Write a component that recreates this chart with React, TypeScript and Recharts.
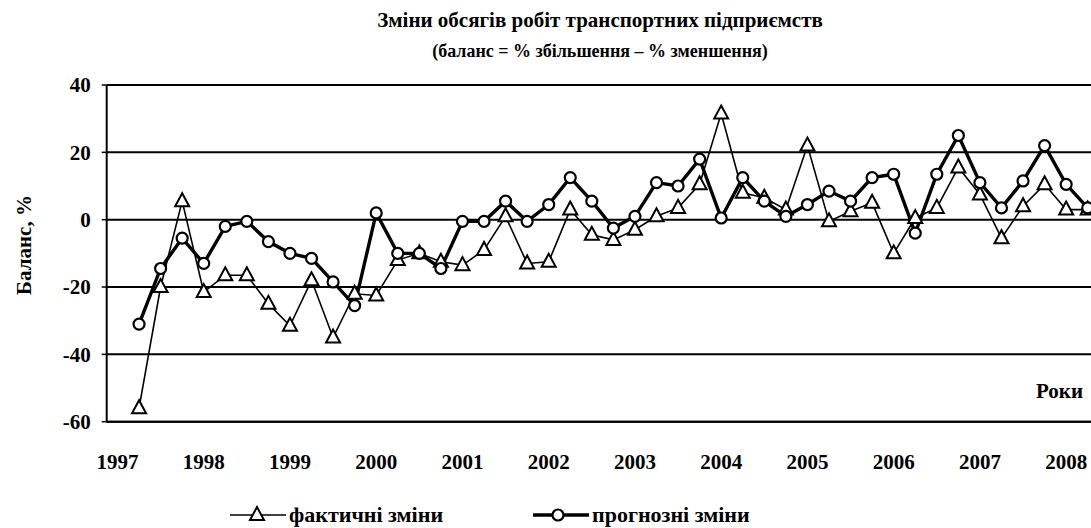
import { LineChart, Line, XAxis, YAxis, CartesianGrid } from "recharts"

// quarters from 1997 Q1 to 2008 Q2 (first quarter has no survey data)
const quarters = [
    "1997 Q1", "1997 Q2", "1997 Q3", "1997 Q4",
    "1998 Q1", "1998 Q2", "1998 Q3", "1998 Q4",
    "1999 Q1", "1999 Q2", "1999 Q3", "1999 Q4",
    "2000 Q1", "2000 Q2", "2000 Q3", "2000 Q4",
    "2001 Q1", "2001 Q2", "2001 Q3", "2001 Q4",
    "2002 Q1", "2002 Q2", "2002 Q3", "2002 Q4",
    "2003 Q1", "2003 Q2", "2003 Q3", "2003 Q4",
    "2004 Q1", "2004 Q2", "2004 Q3", "2004 Q4",
    "2005 Q1", "2005 Q2", "2005 Q3", "2005 Q4",
    "2006 Q1", "2006 Q2", "2006 Q3", "2006 Q4",
    "2007 Q1", "2007 Q2", "2007 Q3", "2007 Q4",
    "2008 Q1", "2008 Q2",
]

// фактичні зміни
const actual = [
    null, -56, -20, 5.5, -21.5, -16.5, -16.5, -25, -31.5, -18, -35, -22, -22.5,
    -12, -10, -12.5, -13.5, -9, 1, -13, -12.5, 3, -4.5, -6, -3,
    1, 3.5, 10.5, 31.5, 8, 6.5, 3, 22, -0.5, 2.5, 5, -10,
    0.5, 3.5, 15.5, 7.5, -5.5, 4, 10.5, 3, 3,
]

// прогнозні зміни
const forecast = [
    null, -31, -14.5, -5.5, -13, -2, -0.5, -6.5, -10, -11.5, -18.5, -25.5, 2,
    -10, -10, -14.5, -0.5, -0.5, 5.5, -0.5, 4.5, 12.5, 5.5, -2.5, 1,
    11, 10, 18, 0.5, 12.5, 5.5, 1, 4.5, 8.5, 5.5, 12.5, 13.5,
    -4, 13.5, 25, 11, 3.5, 11.5, 22, 10.5, 3.5,
]

const years = ["1997", "1998", "1999", "2000", "2001", "2002", "2003", "2004", "2005", "2006", "2007", "2008"]
const yTicks = [-60, -40, -20, 0, 20, 40]

const data = quarters.map((q, i) => ({ idx: i, quarter: q, actual: actual[i], forecast: forecast[i] }))
const quarterEdges = [...quarters.map((_, i) => i - 0.5), quarters.length - 0.5]
const yearTicks = years.map((_, i) => i * 4)

const font = '"Liberation Serif", "Times New Roman", serif'
const tickStyle = { fill: "#000", fontSize: 21, fontWeight: 700, fontFamily: font }

const TriangleDot = (props: any) => {
    const { cx, cy, index } = props
    if (cx == null || cy == null || props.value == null) return <g key={`t-${index}`} />
    return (
        <polygon
            key={`t-${index}`}
            points={`${cx},${cy - 8} ${cx - 7},${cy + 5} ${cx + 7},${cy + 5}`}
            fill="#fff"
            stroke="#000"
            strokeWidth={2}
        />
    )
}

export default function App() {
    return (
        <div style={{
            position: "absolute", left: 0, top: 0, width: 1091, height: 528,
            overflow: "hidden", background: "#fff", fontFamily: font, fontWeight: 700, color: "#000"
        }}>
            <div style={{ position: "absolute", left: 300, width: 600, top: 10, textAlign: "center", fontSize: 21, lineHeight: "20px" }}>
                Зміни обсягів робіт транспортних підприємств
            </div>
            <div style={{ position: "absolute", left: 300, width: 600, top: 41, textAlign: "center", fontSize: 18, lineHeight: "20px" }}>
                (баланс = % збільшення – % зменшення)
            </div>

            <div style={{
                position: "absolute", left: 24, top: 245, fontSize: 21, whiteSpace: "nowrap",
                transform: "translate(-50%, -50%) rotate(-90deg)"
            }}>
                Баланс, %
            </div>

            <LineChart width={1110} height={528} data={data} margin={{ top: 85, right: 11.5, bottom: 50.3, left: 0 }}>
                <CartesianGrid vertical={false} stroke="#000" strokeWidth={2} />
                <XAxis
                    dataKey="idx"
                    type="number"
                    domain={[-0.5, quarters.length - 0.5]}
                    allowDataOverflow
                    ticks={quarterEdges}
                    interval={0}
                    tick={false}
                    tickSize={5}
                    height={6}
                    axisLine={{ stroke: "#000", strokeWidth: 2 }}
                    tickLine={{ stroke: "#000", strokeWidth: 1.5 }}
                />
                <XAxis
                    xAxisId="years"
                    dataKey="idx"
                    type="number"
                    domain={[-0.5, quarters.length - 0.5]}
                    allowDataOverflow
                    ticks={yearTicks}
                    interval={0}
                    tickFormatter={(v: number) => years[v / 4]}
                    tick={tickStyle}
                    tickSize={0}
                    tickMargin={26}
                    axisLine={false}
                    tickLine={false}
                    height={50}
                />
                <YAxis
                    type="number"
                    domain={[-60, 40]}
                    ticks={yTicks}
                    interval={0}
                    width={106.7}
                    tick={tickStyle}
                    tickSize={5}
                    tickMargin={11}
                    axisLine={{ stroke: "#000", strokeWidth: 2 }}
                    tickLine={{ stroke: "#000", strokeWidth: 1.5 }}
                />
                <Line
                    dataKey="actual"
                    stroke="#000"
                    strokeWidth={1.6}
                    dot={TriangleDot}
                    activeDot={false}
                    isAnimationActive={false}
                />
                <Line
                    dataKey="forecast"
                    stroke="#000"
                    strokeWidth={3.4}
                    dot={{ r: 5.5, fill: "#fff", stroke: "#000", strokeWidth: 2.2 }}
                    activeDot={false}
                    isAnimationActive={false}
                />
            </LineChart>

            <div style={{ position: "absolute", right: 8, top: 381, fontSize: 21, lineHeight: "20px" }}>Роки</div>

            <div style={{ position: "absolute", left: 230, top: 504, display: "flex", alignItems: "center", fontSize: 22, lineHeight: "22px" }}>
                <svg width={56} height={20}>
                    <line x1={0} x2={56} y1={10} y2={10} stroke="#000" strokeWidth={1.6} />
                    <polygon points="27,2 20,15 34,15" fill="#fff" stroke="#000" strokeWidth={2} />
                </svg>
                <span style={{ marginLeft: 3 }}>фактичні зміни</span>
            </div>
            <div style={{ position: "absolute", left: 533, top: 504, display: "flex", alignItems: "center", fontSize: 22, lineHeight: "22px" }}>
                <svg width={56} height={20}>
                    <line x1={0} x2={56} y1={10} y2={10} stroke="#000" strokeWidth={3.4} />
                    <circle cx={25} cy={10} r={5.5} fill="#fff" stroke="#000" strokeWidth={2.2} />
                </svg>
                <span style={{ marginLeft: 3 }}>прогнозні зміни</span>
            </div>
        </div>
    )
}
